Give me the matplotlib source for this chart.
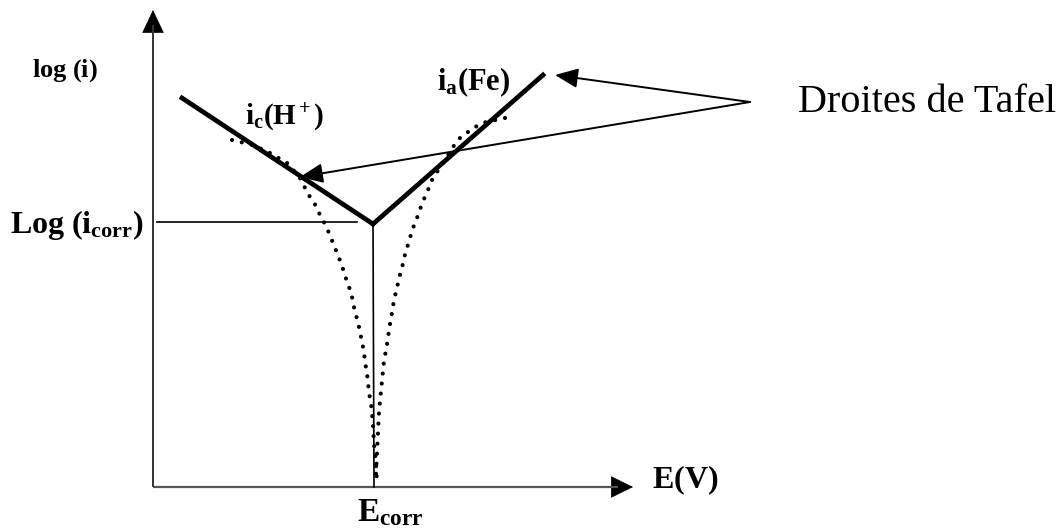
import numpy as np
import matplotlib
matplotlib.use('Agg')
from matplotlib import pyplot as plt
from matplotlib.patches import FancyArrowPatch

plt.rcParams['mathtext.fontset'] = 'custom'
plt.rcParams['mathtext.rm'] = 'Liberation Serif'
plt.rcParams['mathtext.bf'] = 'Liberation Serif:bold'
plt.rcParams['mathtext.it'] = 'Liberation Serif:italic'

# schematic units: E along x (origin at the axis corner), log(i) along y
e_corr = 22.0
log_icorr = 26.5

# Tafel lines
tafel_c_E = [2.9, 22.0]
tafel_c_log = [38.9, 26.3]
tafel_a_E = [22.0, 39.0]
tafel_a_log = [26.3, 41.2]

# measured curve, cathodic branch
cath_E = [7.9, 10.0, 11.7, 13.4, 14.7, 15.2, 15.7, 16.3, 16.7, 17.2, 17.6, 18.0,
          18.4, 18.8, 19.1, 19.4, 19.8, 20.0, 20.2, 20.5, 20.7, 20.9, 21.1, 21.2,
          21.4, 21.5, 21.6, 21.8, 21.9, 22.0, 22.1, 22.2, 22.3, 22.4]
cath_log = [34.7, 34.2, 33.4, 32.4, 30.9, 29.9, 29.0, 28.1, 27.2, 26.3, 25.4, 24.4,
            23.4, 22.4, 21.5, 20.5, 19.5, 18.5, 17.5, 16.5, 15.5, 14.5, 13.5, 12.5,
            11.4, 10.4, 9.4, 8.4, 7.4, 6.3, 4.3, 3.3, 2.3, 0.4]

# measured curve, anodic branch
anod_E = [35.2, 33.3, 32.4, 31.5, 30.7, 30.0, 29.4, 28.4, 27.9, 27.5, 27.1, 26.7,
          26.4, 26.0, 25.7, 25.4, 25.1, 24.9, 24.6, 24.4, 24.1, 23.8, 23.6, 23.5,
          23.3, 23.1, 23.0, 22.8, 22.6, 22.5, 22.4, 22.3, 22.3]
anod_log = [36.9, 36.5, 36.1, 35.5, 34.9, 34.0, 33.0, 31.5, 30.7, 29.7, 28.8, 27.8,
            26.9, 25.9, 24.9, 23.9, 22.9, 21.9, 20.9, 19.9, 18.7, 16.8, 15.8, 14.8,
            13.7, 12.6, 11.6, 9.6, 7.5, 5.5, 3.4, 1.4, 0.4]

x_end = 48.0
y_end = 47.7
label_point = (59.7, 38.5)
arrow_targets = [(40.2, 41.2), (14.7, 31.0)]

fig = plt.figure(figsize=(10.59, 5.29), dpi=100)
ax = fig.add_axes([0, 0, 1, 1])
ax.set_xlim(-15.3, 90.6)
ax.set_ylim(-4.2, 48.7)
ax.axis('off')

# axes with arrow heads
ax.plot([0, x_end - 1.5], [0, 0], color='#555555', lw=1.6, solid_capstyle='butt')
ax.plot([0, 0], [0, y_end - 1.5], color='#333333', lw=1.4, solid_capstyle='butt')
ax.add_patch(FancyArrowPatch((x_end - 2.0, 0), (x_end, 0), arrowstyle='-|>,head_length=0.75,head_width=0.37',
                             mutation_scale=20, color='black', lw=0.5, shrinkA=0, shrinkB=0))
ax.add_patch(FancyArrowPatch((0, y_end - 2.2), (0, y_end), arrowstyle='-|>,head_length=0.78,head_width=0.37',
                             mutation_scale=20, color='black', lw=0.5, shrinkA=0, shrinkB=0))

# guide lines for E_corr and log(i_corr)
ax.plot([0.4, 20.4], [log_icorr, log_icorr], color='black', lw=1.2)
ax.plot([e_corr, e_corr + 0.1], [tafel_c_log[1], 0], color='black', lw=1.2)

# dotted polarisation curve
ax.plot(cath_E, cath_log, color='black', lw=3.0, linestyle=(0, (0.01, 2.4)), dash_capstyle='round')
ax.plot(anod_E, anod_log, color='black', lw=3.0, linestyle=(0, (0.01, 2.4)), dash_capstyle='round')

# Tafel lines
ax.plot(tafel_c_E, tafel_c_log, color='black', lw=3.4, solid_joinstyle='miter')
ax.plot(tafel_a_E, tafel_a_log, color='black', lw=3.4, solid_joinstyle='miter')

# arrows from the label
for tx, ty in arrow_targets:
    ax.add_patch(FancyArrowPatch(label_point, (tx, ty), arrowstyle='-|>,head_length=0.7,head_width=0.3',
                                 mutation_scale=20, color='black', lw=1.4, shrinkA=0, shrinkB=0))

ax.text(-12.1, 41.0, r'$\mathbf{log\ (i)}$', fontsize=19, va='baseline', ha='left')
ax.text(-14.3, 25.4, r'$\mathbf{Log\ (i_{corr})}$', fontsize=23, va='baseline', ha='left')
ax.text(9.2, 36.2, r'$\mathbf{i_c(H^+)}$', fontsize=21, va='baseline', ha='left')
ax.text(28.4, 39.7, r'$\mathbf{i_a(Fe)}$', fontsize=22, va='baseline', ha='left')
ax.text(49.9, -0.1, r'$\mathbf{E(V)}$', fontsize=23, va='baseline', ha='left')
ax.text(20.4, -3.4, r'$\mathbf{E_{corr}}$', fontsize=24, va='baseline', ha='left')
ax.text(64.5, 37.5, 'Droites de Tafel', fontsize=29, family='Liberation Serif', va='baseline', ha='left')

plt.savefig('out.png', dpi=100)
